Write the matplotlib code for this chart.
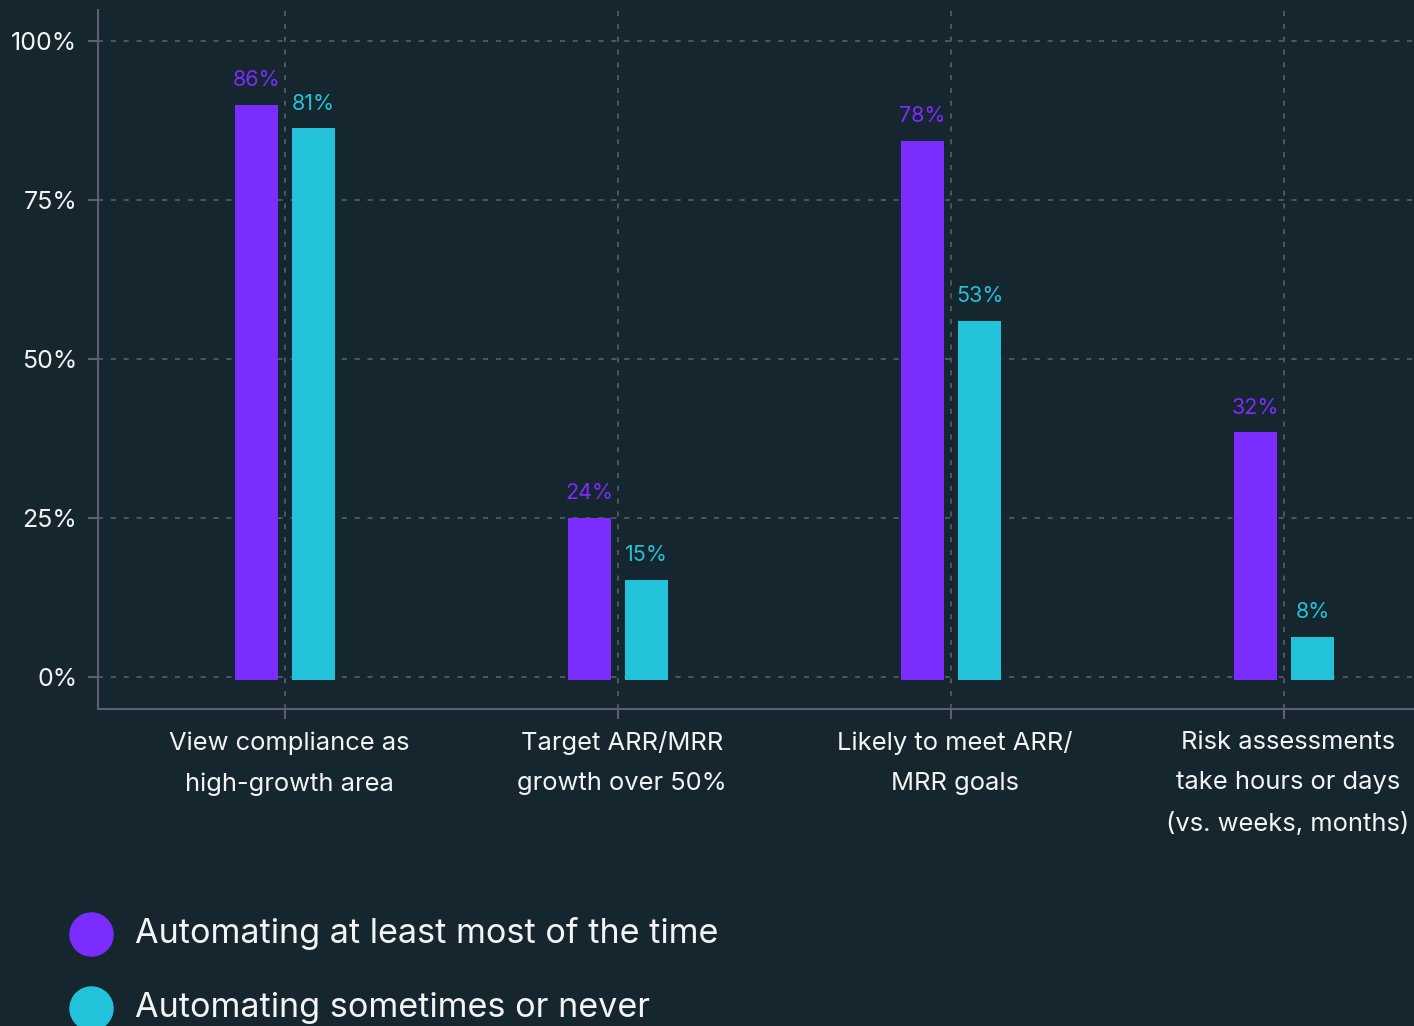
import numpy as np
import matplotlib
matplotlib.use("Agg")
import matplotlib.pyplot as plt
import matplotlib.transforms as mtransforms
from matplotlib.lines import Line2D

categories = ["View compliance as\nhigh-growth area",
              "Target ARR/MRR\ngrowth over 50%",
              "Likely to meet ARR/\nMRR goals",
              "Risk assessments\ntake hours or days\n(vs. weeks, months)"]
series_names = ["Automating at least most of the time",
                "Automating sometimes or never"]
# bar heights as drawn in the picture
most_heights = [90.0, 25.0, 84.3, 38.5]
some_heights = [86.3, 15.3, 56.0, 6.3]
# percentages printed above the bars
most_labels = [86, 24, 78, 32]
some_labels = [81, 15, 53, 8]

BG = "#16262e"
PURPLE = "#7b2cff"
CYAN = "#22c3da"
GRID = "#4b5862"
SPINE = "#5c6070"
TXT = "#f2f4f5"

plt.rcParams['font.family'] = ['Inter', 'DejaVu Sans']

fig = plt.figure(figsize=(14.14, 10.26), dpi=100, facecolor=BG)
ax = fig.add_axes([98/1414, 1 - 709/1026, 1 - 98/1414, (709 - 10)/1026])
ax.set_facecolor(BG)

x = np.arange(len(categories))
off = 0.0856
w = 0.129
base = -0.5  # bars start just under the zero line
ax.bar(x - off, np.array(most_heights) - base, w, bottom=base, color=PURPLE, zorder=3)
ax.bar(x + off, np.array(some_heights) - base, w, bottom=base, color=CYAN, zorder=3)

for xi, h, lab in zip(x, most_heights, most_labels):
    ax.annotate(f"{lab}%", (xi - off, h), xytext=(0, 10.5), textcoords="offset points",
                ha="center", va="bottom", color=PURPLE, fontsize=15.5)
for xi, h, lab in zip(x, some_heights, some_labels):
    ax.annotate(f"{lab}%", (xi + off, h), xytext=(0, 10.5), textcoords="offset points",
                ha="center", va="bottom", color=CYAN, fontsize=15.5)

ax.set_xlim(-0.5616, 3.39)
ax.set_ylim(-5.03, 104.9)
ax.set_yticks([0, 25, 50, 75, 100])
ax.set_yticklabels(["0%", "25%", "50%", "75%", "100%"])
ax.set_xticks(x)
ax.set_xticklabels(categories, linespacing=1.95)

ax.grid(True, color=GRID, linestyle=(0, (2.6, 4.0)), linewidth=1.4, zorder=0)
ax.tick_params(axis="y", colors=SPINE, labelcolor=TXT, labelsize=18, length=7, width=1.5, pad=8)
ax.tick_params(axis="x", colors=SPINE, labelcolor=TXT, labelsize=18.4, length=7, width=1.5, pad=9)
for s in ["top", "right"]:
    ax.spines[s].set_visible(False)
for s in ["left", "bottom"]:
    ax.spines[s].set_color(SPINE)
    ax.spines[s].set_linewidth(1.5)

# category labels sit a few pixels right of their ticks
shift = mtransforms.ScaledTranslation(4/100, 0, fig.dpi_scale_trans)
for t in ax.get_xticklabels():
    t.set_transform(t.get_transform() + shift)

# legend
for i, (name, col) in enumerate(zip(series_names, [PURPLE, CYAN])):
    yc = 1 - (934 + 74 * i) / 1026
    fig.add_artist(Line2D([91/1414], [yc], marker="o", markersize=31, color=col,
                          linestyle="none", transform=fig.transFigure))
    fig.text(135/1414, yc, name, color=TXT, fontsize=24.6, va="center", ha="left")

fig.savefig("out.png", dpi=100, facecolor=BG)
